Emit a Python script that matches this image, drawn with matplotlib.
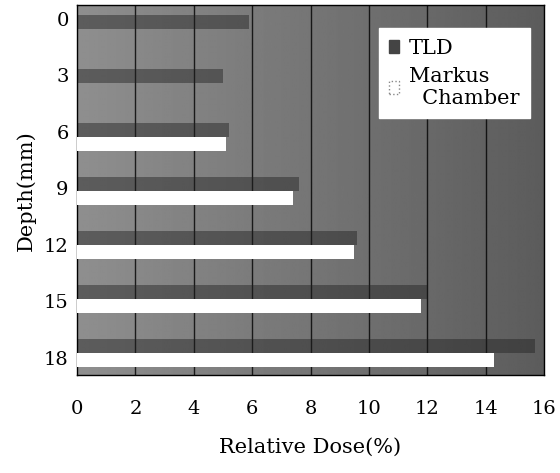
import numpy as np
import matplotlib
matplotlib.use("Agg")
import matplotlib.pyplot as plt
from matplotlib.patches import Patch

# data
depths = ["0", "3", "6", "9", "12", "15", "18"]
tld = [5.9, 5.0, 5.2, 7.6, 9.6, 12.0, 15.7]
markus = [0.0, 0.0, 5.1, 7.4, 9.5, 11.8, 14.3]
xticks = [0, 2, 4, 6, 8, 10, 12, 14, 16]

plt.rcParams['font.family'] = ['DejaVu Serif']

fig = plt.figure(figsize=(5.6, 4.73), dpi=100)
ax = fig.add_axes([0.1375, 0.207, 0.834, 0.782])

ylo, yhi = 6.41, -0.44
# scanned grey background, lighter on the left
grad = np.linspace(0.56, 0.36, 256).reshape(1, -1)
ax.imshow(grad, extent=(0, 16, ylo, yhi), aspect='auto', cmap='gray',
          vmin=0, vmax=1, zorder=0, interpolation='bilinear')

y = np.arange(len(depths))
h = 0.26
ax.barh(y - h / 2, tld, height=h, color='#202020', alpha=0.45, zorder=2)
ax.barh(y + h / 2, markus, height=h, color='white', zorder=3)

for xv in xticks[1:-1]:
    ax.axvline(xv, color='black', lw=1.0, alpha=0.8, zorder=1)

ax.set_xlim(0, 16)
ax.set_ylim(ylo, yhi)
ax.set_xticks(xticks)
ax.set_xticklabels([str(v) for v in xticks], fontsize=14)
# labels in the scan drift slightly from the bars
ax.set_yticks(-0.19 + y * 1.046)
ax.set_yticklabels(depths, fontsize=14)
ax.tick_params(axis='x', length=0, pad=18)
ax.tick_params(axis='y', length=0, pad=6)
for s in ax.spines.values():
    s.set_color('black')
    s.set_linewidth(1.0)

ax.set_xlabel("Relative Dose(%)", fontsize=15, labelpad=14)
ax.set_ylabel("Depth(mm)", fontsize=15, labelpad=6)

handles = [Patch(facecolor='#444444', edgecolor='#444444'),
           Patch(facecolor='white', edgecolor='#888888', linestyle=':')]
leg = ax.legend(handles, ["TLD", "Markus\n  Chamber"], loc='upper right',
                bbox_to_anchor=(0.970, 0.938), borderaxespad=0, fontsize=15,
                frameon=True, fancybox=False, framealpha=1, edgecolor='white',
                handlelength=0.45, handleheight=0.6, handletextpad=0.5,
                borderpad=0.5, labelspacing=0.45)
leg.set_zorder(5)

fig.savefig("out.png", dpi=100)
